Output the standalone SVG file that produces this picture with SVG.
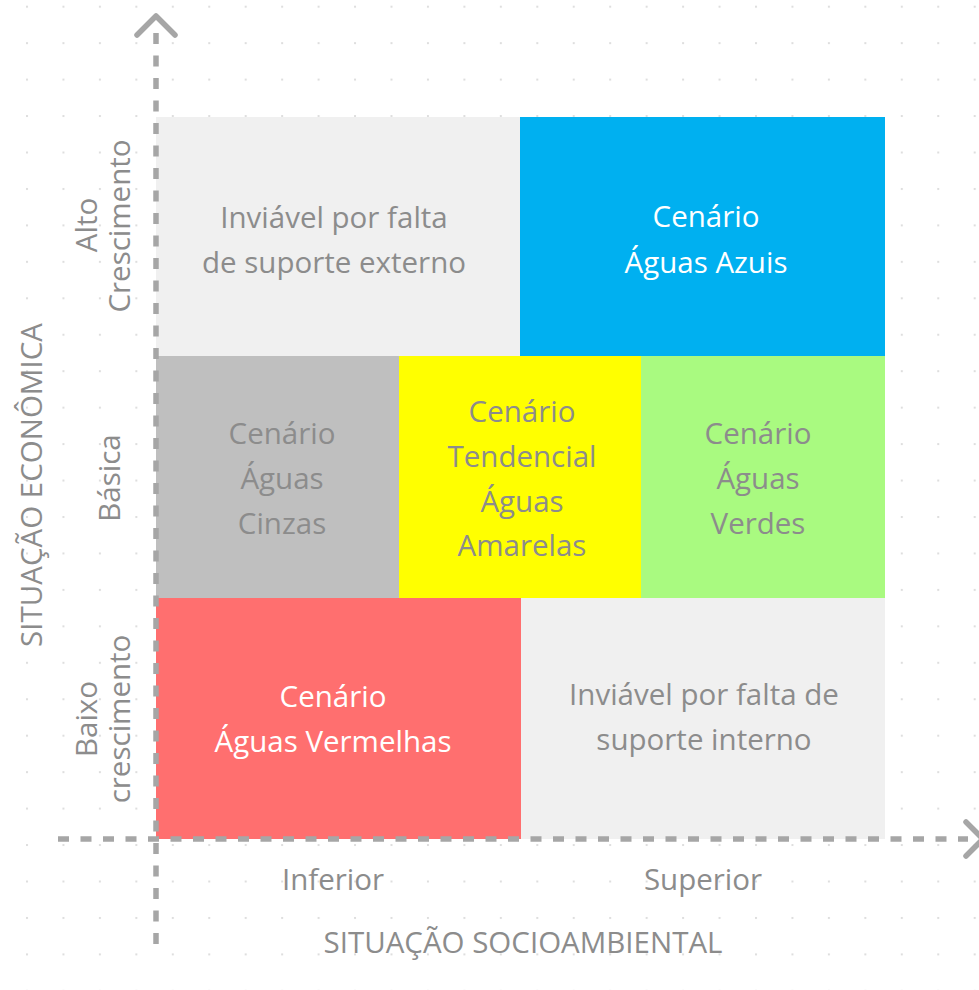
<svg xmlns="http://www.w3.org/2000/svg" width="979" height="990" viewBox="0 0 979 990">
<defs>
<pattern id="dots" patternUnits="userSpaceOnUse" x="26" y="5.7" width="36.45" height="36.45">
<rect x="0" y="0" width="2" height="2" fill="#dedede"/>
</pattern>
<style>
.t{font-family:"Open Sans","Noto Sans",sans-serif;font-size:29.5px;fill:#8c8c8c;text-anchor:middle}
.w{fill:#ffffff}
.ax{stroke:#a6a6a6;stroke-width:5.5;fill:none;stroke-dasharray:11 11.5}
.ah{stroke:#a6a6a6;stroke-width:5.5;fill:none;stroke-linecap:round;stroke-linejoin:round}
</style>
</defs>
<rect width="979" height="990" fill="#ffffff"/>
<rect width="979" height="990" fill="url(#dots)"/>

<g id="cell-inviavel-externo">
<rect x="156" y="117" width="364" height="239" fill="#f0f0f0"/>
<text class="t" x="334" y="228">Inviável por falta</text>
<text class="t" x="334" y="273">de suporte externo</text>
</g>
<g id="cell-azuis">
<rect x="520" y="117" width="365" height="239" fill="#00b0f0"/>
<text class="t w" x="706" y="227">Cenário</text>
<text class="t w" x="706" y="273">Águas Azuis</text>
</g>
<g id="cell-cinzas">
<rect x="156" y="356" width="243" height="242" fill="#bfbfbf"/>
<text class="t" x="282" y="444">Cenário</text>
<text class="t" x="282" y="489">Águas</text>
<text class="t" x="282" y="534">Cinzas</text>
</g>
<g id="cell-amarelas">
<rect x="399" y="356" width="242" height="242" fill="#ffff00"/>
<text class="t" x="522" y="422">Cenário</text>
<text class="t" x="522" y="467">Tendencial</text>
<text class="t" x="522" y="512">Águas</text>
<text class="t" x="522" y="556">Amarelas</text>
</g>
<g id="cell-verdes">
<rect x="641" y="356" width="244" height="242" fill="#a9fa80"/>
<text class="t" x="758" y="444">Cenário</text>
<text class="t" x="758" y="489">Águas</text>
<text class="t" x="758" y="534">Verdes</text>
</g>
<g id="cell-vermelhas">
<rect x="156" y="598" width="365" height="241" fill="#ff6f6f"/>
<text class="t w" x="333" y="707">Cenário</text>
<text class="t w" x="333" y="752">Águas Vermelhas</text>
</g>
<g id="cell-inviavel-interno">
<rect x="521" y="598" width="364" height="241" fill="#f0f0f0"/>
<text class="t" x="704" y="705">Inviável por falta de</text>
<text class="t" x="704" y="750">suporte interno</text>
</g>

<g id="axes">
<line class="ax" x1="156" y1="33" x2="156" y2="944"/>
<path class="ah" d="M137,35 L156,16 L175,35"/>
<line class="ax" x1="58" y1="839" x2="968" y2="839"/>
<path class="ah" d="M966,822 L983,839 L966,856"/>
</g>

<g id="labels">
<text class="t" x="333" y="890">Inferior</text>
<text class="t" x="703" y="890">Superior</text>
<text class="t" x="523" y="953">SITUAÇÃO SOCIOAMBIENTAL</text>
<text class="t" transform="translate(42,485) rotate(-90)">SITUAÇÃO ECONÔMICA</text>
<text class="t" transform="translate(97,225) rotate(-90)">Alto</text>
<text class="t" transform="translate(130,226) rotate(-90)">Crescimento</text>
<text class="t" transform="translate(120,478) rotate(-90)">Básica</text>
<text class="t" transform="translate(97,719) rotate(-90)">Baixo</text>
<text class="t" transform="translate(130,719) rotate(-90)">crescimento</text>
</g>
</svg>
